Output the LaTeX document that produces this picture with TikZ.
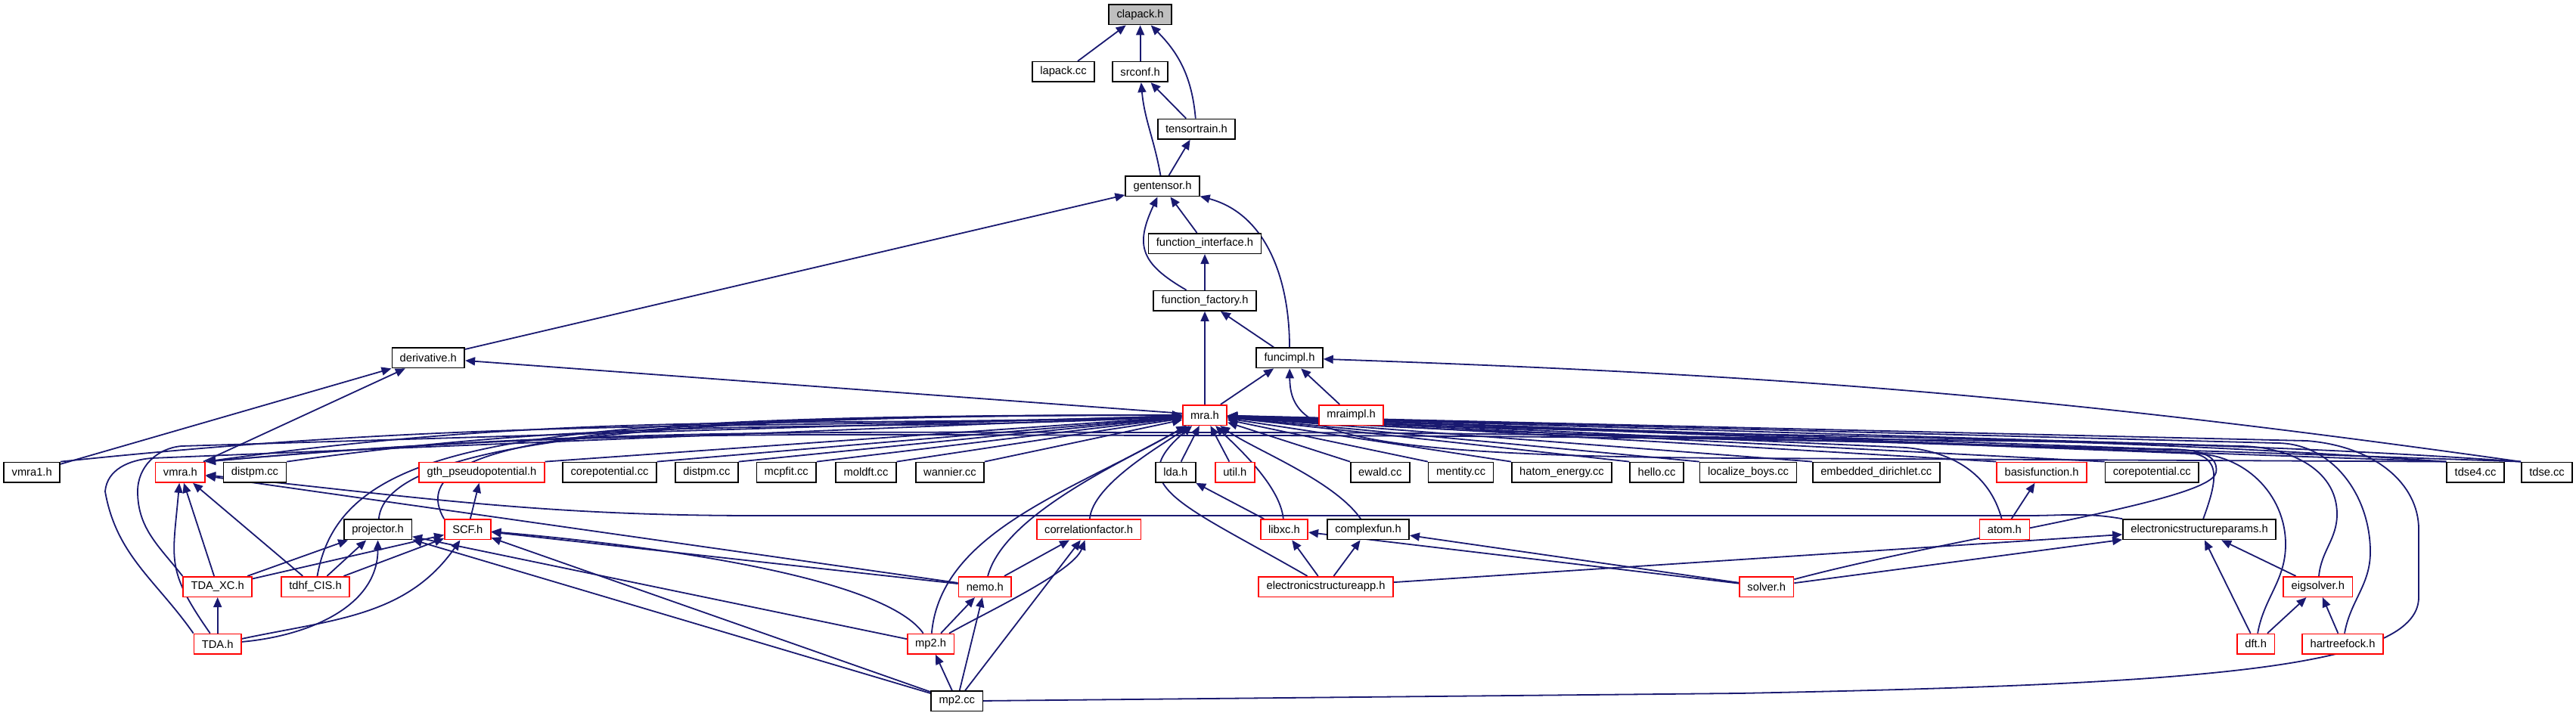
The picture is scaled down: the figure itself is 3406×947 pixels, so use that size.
\documentclass[tikz,border=0pt]{standalone}
\usepackage{fontspec}
\setmainfont{Liberation Sans}
\usepackage{tikz}
\usetikzlibrary{positioning,arrows.meta,backgrounds}
\definecolor{edgeblue}{HTML}{191970}
\definecolor{hdrgray}{HTML}{BFBFBF}

\begin{document}
\begin{tikzpicture}[x=0.5pt,y=0.5pt,font=\fontsize{7.35}{8.5}\selectfont,
  >={Triangle[length=6.5pt,width=5.5pt]},
  file/.style={rectangle,draw=black,fill=white,line width=0.8pt,inner xsep=5.2pt,inner ysep=0pt,minimum height=13.3pt},
  redfile/.style={file,draw=red},
  hdr/.style={file,fill=hdrgray},
  dep/.style={->,draw=edgeblue,line width=0.9pt}]
\useasboundingbox (0,0) rectangle (3406,-947);
% upper part
\node[hdr] (clapack) at (1507.6,-19.3) {clapack.h};
\node[file] (lapack) at (1406,-95) {lapack.cc};
\node[file] (srconf) at (1507.6,-95) {srconf.h};
\node[file] (tensortrain) at (1582,-170.7) {tensortrain.h};
\node[file] (gentensor) at (1537,-246.3) {gentensor.h};
\node[file] (funciface) at (1593,-322) {function\_interface.h};
\node[file] (funcfactory) at (1593,-397.7) {function\_factory.h};
\node[file] (derivative) at (566.3,-473.3) {derivative.h};
\node[file] (funcimpl) at (1705,-473.3) {funcimpl.h};
\node[redfile] (mra) at (1593,-549) {mra.h};
\node[redfile] (mraimpl) at (1786.5,-549) {mraimpl.h};
% row under mra.h
\node[file] (vmraone) at (42.2,-624.7) {vmra1.h};
\node[redfile] (vmra) at (238.4,-624.7) {vmra.h};
\node[file] (distpmA) at (337,-624.7) {distpm.cc};
\node[redfile] (gth) at (637,-624.7) {gth\_pseudopotential.h};
\node[file] (coreA) at (806,-624.7) {corepotential.cc};
\node[file] (distpmB) at (934.4,-624.7) {distpm.cc};
\node[file] (mcpfit) at (1039.7,-624.7) {mcpfit.cc};
\node[file] (moldft) at (1145,-624.7) {moldft.cc};
\node[file] (wannier) at (1255.9,-624.7) {wannier.cc};
\node[file] (lda) at (1554.4,-624.7) {lda.h};
\node[redfile] (util) at (1632.8,-624.7) {util.h};
\node[file] (ewald) at (1824.8,-624.7) {ewald.cc};
\node[file] (mentity) at (1931.6,-624.7) {mentity.cc};
\node[file] (hatom) at (2065,-624.7) {hatom\_energy.cc};
\node[file] (hello) at (2190.5,-624.7) {hello.cc};
\node[file] (localize) at (2311.5,-624.7) {localize\_boys.cc};
\node[file] (embedded) at (2480.8,-624.7) {embedded\_dirichlet.cc};
\node[redfile] (basisfn) at (2699.6,-624.7) {basisfunction.h};
\node[file] (coreB) at (2845.3,-624.7) {corepotential.cc};
\node[file] (tdsefour) at (3273,-624.7) {tdse4.cc};
\node[file] (tdse) at (3367.5,-624.7) {tdse.cc};
% lower rows
\node[file] (projector) at (499.6,-700.3) {projector.h};
\node[redfile] (scf) at (618.3,-700.3) {SCF.h};
\node[redfile] (corrfac) at (1439.6,-700.3) {correlationfactor.h};
\node[redfile] (libxc) at (1698,-700.3) {libxc.h};
\node[file] (complexfun) at (1809,-700.3) {complexfun.h};
\node[redfile] (atom) at (2650.4,-700.3) {atom.h};
\node[file] (esparams) at (2908,-700.3) {electronicstructureparams.h};
\node[redfile] (tdaxc) at (287.7,-776) {TDA\_XC.h};
\node[redfile] (tdhf) at (417,-776) {tdhf\_CIS.h};
\node[redfile] (nemo) at (1302.3,-776) {nemo.h};
\node[redfile] (esapp) at (1753,-776) {electronicstructureapp.h};
\node[redfile] (solver) at (2335.8,-776) {solver.h};
\node[redfile] (eigsolver) at (3064.8,-776) {eigsolver.h};
\node[redfile] (tda) at (287.7,-851.7) {TDA.h};
\node[redfile] (mptwoh) at (1230.6,-851.7) {mp2.h};
\node[redfile] (dft) at (2982.6,-851.7) {dft.h};
\node[redfile] (hartreefock) at (3097.5,-851.7) {hartreefock.h};
\node[file] (mptwocc) at (1265.3,-927.3) {mp2.cc};

\begin{scope}[on background layer]
% top of the graph
\draw[dep] (lapack) -- (clapack);
\draw[dep] (srconf) -- (clapack);
\draw[dep] (tensortrain) to[out=95,in=-45] (clapack);
\draw[dep] (tensortrain) -- (srconf);
\draw[dep] (gentensor) to[out=100,in=-85] (srconf);
\draw[dep] (gentensor) -- (tensortrain);
\draw[dep] (derivative) -- (gentensor);
\draw[dep] (funcfactory) to[out=150,in=-115,looseness=1.4] (gentensor);
\draw[dep] (funciface) -- (gentensor);
\draw[dep] (funcimpl) to[out=90,in=-15] (gentensor);
\draw[dep] (funcfactory) -- (funciface);
\draw[dep] (funcimpl) -- (funcfactory);
\draw[dep] (mra) -- (funcfactory);
\draw[dep] (mra) -- (funcimpl);
\draw[dep] (mraimpl) -- (funcimpl);
\draw[dep] (tdse.north west) to[out=172,in=-2] (funcimpl);
\draw[dep] (tdsefour.north west) -- (2300,-606) .. controls (1760,-603) and (1706,-570) .. (funcimpl);
\draw[dep] (vmraone) -- (derivative);
\draw[dep] (vmra) -- (derivative);
\draw[dep] (mra) -- (derivative);
% everything that pulls in mra.h
\draw[dep] (vmraone.north east) to[out=6,in=182] (mra);
\draw[dep] (vmra.north east) to[out=8,in=182] (mra);
\draw[dep] (distpmA.north east) to[out=8,in=183] (mra);
\draw[dep] (gth.north east) -- (mra);
\draw[dep] (coreA.north east) -- (mra);
\draw[dep] (distpmB.north east) -- (mra);
\draw[dep] (mcpfit.north east) -- (mra);
\draw[dep] (moldft.north east) -- (mra);
\draw[dep] (wannier.north east) -- (mra);
\draw[dep] (lda) -- (mra);
\draw[dep] (util) -- (mra);
\draw[dep] (ewald.north west) -- (mra);
\draw[dep] (mentity.north west) -- (mra);
\draw[dep] (hatom.north west) -- (mra);
\draw[dep] (hello.north west) -- (mra);
\draw[dep] (localize.north west) -- (mra);
\draw[dep] (embedded.north west) -- (mra);
\draw[dep] (basisfn.north west) -- (mra);
\draw[dep] (coreB.north west) -- (mra);
\draw[dep] (tdsefour.north west) to[out=176,in=-3] (mra);
\draw[dep] (tdse.north west) to[out=176,in=-4] (mra);
\draw[dep] (tdsefour.north west) to[out=178,in=0] (1600,-572) to[out=180,in=5] (vmra.north east);
\draw[dep] (tdse.north west) to[out=178,in=0] (1600,-576) to[out=180,in=5] (vmra.north east);
\draw[dep] (projector) .. controls +(85:120) and +(180:700) .. (mra);
\draw[dep] (scf.north west) .. controls +(120:120) and +(180:800) .. (mra);
\draw[dep] (tdhf) .. controls +(80:200) and +(180:900) .. (mra);
\draw[dep] (tdaxc.north west) to[out=128,in=-90] (182,-650) to[out=90,in=185] (240,-590) -- (mra);
\draw[dep] (tda.north west) to[out=125,in=-80] (139,-650) to[out=85,in=185] (200,-606) -- (mra);
\draw[dep] (corrfac) .. controls +(85:60) and +(-145:70) .. (mra);
\draw[dep] (nemo) .. controls +(75:100) and +(-150:120) .. (mra);
\draw[dep] (mptwoh) .. controls +(85:150) and +(-150:200) .. (mra);
\draw[dep] (libxc) .. controls +(95:60) and +(-45:50) .. (mra);
\draw[dep] (complexfun) .. controls +(125:80) and +(-35:80) .. (mra);
\draw[dep] (esapp) .. controls +(150:220) and +(-140:145) .. (mra);
\draw[dep] (atom) to[out=105,in=-5] (2520,-592) -- (mra);
\draw[dep] (esparams) to[out=70,in=0,looseness=1.6] (2880,-598) -- (mra);
\draw[dep] (solver) .. controls +(15:250) and +(-100:40) .. (2930,-625) to[out=80,in=0] (2860,-594) -- (mra);
\draw[dep] (dft) to[out=80,in=-90] (3022,-720) to[out=90,in=0] (2900,-600) -- (mra);
\draw[dep] (eigsolver) to[out=85,in=-90] (3090,-680) to[out=90,in=0] (2960,-590) -- (mra);
\draw[dep] (hartreefock) to[out=80,in=-90] (3134,-730) to[out=90,in=0] (3010,-586) -- (mra);
\draw[dep] (mptwocc) -- (2300,-917) .. controls (2900,-905) and (3198,-885) .. (3198,-790) -- (3198,-700) .. controls (3198,-640) and (3140,-590) .. (3050,-583) -- (mra);
% left group
\draw[dep] (scf) -- (gth);
\draw[dep] (tda) -- (tdaxc);
\draw[dep] (tdaxc) -- (vmra);
\draw[dep] (tdhf) -- (vmra);
\draw[dep] (tda) to[out=125,in=-95,looseness=1.3] (vmra);
\draw[dep] (tdaxc) -- (projector);
\draw[dep] (tdhf) -- (projector);
\draw[dep] (tda) to[out=5,in=-90] (projector);
\draw[dep] (tdaxc) -- (scf);
\draw[dep] (tdhf) -- (scf);
\draw[dep] (tda) to[out=12,in=-125] (scf);
\draw[dep] (esparams.north west) to[out=170,in=0] (2680,-682) -- (1000,-682) to[out=180,in=-6] (vmra);
\draw[dep] (nemo) -- (vmra);
\draw[dep] (nemo) -- (scf);
\draw[dep] (nemo) -- (corrfac);
\draw[dep] (mptwoh) -- (nemo);
\draw[dep] (mptwoh) .. controls +(30:80) and +(-110:60) .. (corrfac);
\draw[dep] (mptwoh) -- (projector);
\draw[dep] (mptwoh) .. controls +(125:100) and +(-5:300) .. (scf);
\draw[dep] (mptwocc) -- (mptwoh);
\draw[dep] (mptwocc) -- (nemo);
\draw[dep] (mptwocc) -- (corrfac);
\draw[dep] (mptwocc) -- (projector);
\draw[dep] (mptwocc) -- (scf);
% middle and right group
\draw[dep] (libxc) -- (lda);
\draw[dep] (esapp) -- (libxc);
\draw[dep] (esapp) -- (complexfun);
\draw[dep] (esapp) -- (esparams);
\draw[dep] (solver) -- (libxc);
\draw[dep] (solver) -- (complexfun);
\draw[dep] (solver) -- (esparams);
\draw[dep] (atom) -- (basisfn);
\draw[dep] (eigsolver) -- (esparams);
\draw[dep] (dft) -- (esparams);
\draw[dep] (dft) -- (eigsolver);
\draw[dep] (hartreefock) -- (eigsolver);
\end{scope}
\end{tikzpicture}
\end{document}
